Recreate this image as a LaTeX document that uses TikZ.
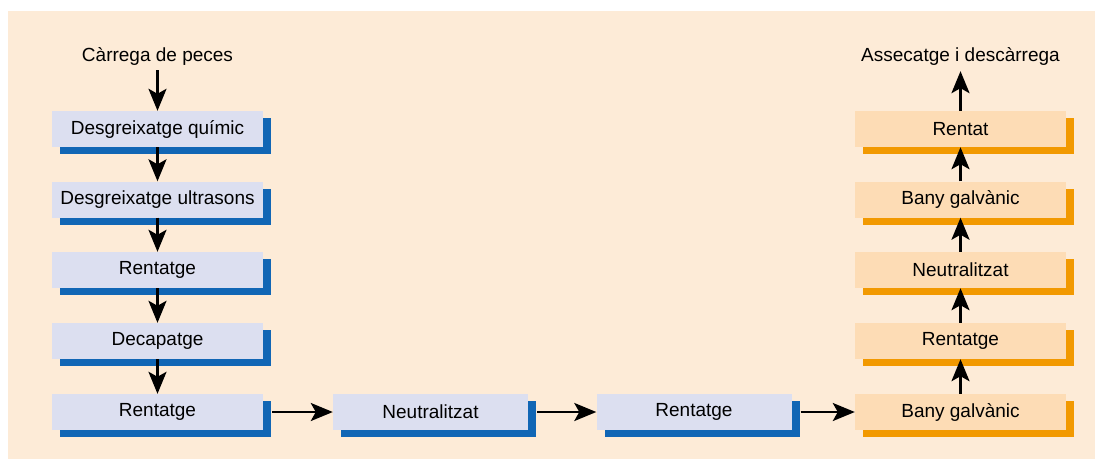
\documentclass[tikz,border=0pt]{standalone}
\usepackage{fontspec}
\setmainfont{Liberation Sans}
\usetikzlibrary{shadows,arrows.meta}
\definecolor{bgpeach}{HTML}{FDEBD7}
\definecolor{bluefill}{HTML}{DCDFF0}
\definecolor{blueshadow}{HTML}{1166B5}
\definecolor{orfill}{HTML}{FDDCB5}
\definecolor{orshadow}{HTML}{F29900}
\tikzset{
  basebox/.style={minimum width=211pt, minimum height=36pt, inner sep=0pt,
    font=\fontsize{19}{21}\selectfont},
  bluebox/.style={basebox, fill=bluefill,
    drop shadow={shadow xshift=8pt, shadow yshift=-7pt, fill=blueshadow, opacity=1}},
  midbox/.style={bluebox, minimum width=195pt},
  orbox/.style={basebox, fill=orfill,
    drop shadow={shadow xshift=8pt, shadow yshift=-7pt, fill=orshadow, opacity=1}},
  lbl/.style={font=\fontsize{19}{21}\selectfont, inner sep=0pt},
  flow/.style={line width=2.6pt, -{Stealth[length=22pt,width=18pt,inset=5pt]}}
}
\begin{document}
\begin{tikzpicture}[x=1pt,y=-1pt]
\useasboundingbox (0,0) rectangle (1095,459);
\fill[bgpeach] (8,11) rectangle (1095,459);
% left column
\node[lbl] (start) at (157.5,56) {Càrrega de peces};
\node[bluebox] (l1) at (157.5,129) {Desgreixatge químic};
\node[bluebox] (l2) at (157.5,199.5) {Desgreixatge ultrasons};
\node[bluebox] (l3) at (157.5,270) {Rentatge};
\node[bluebox] (l4) at (157.5,341) {Decapatge};
\node[bluebox] (l5) at (157.5,412) {Rentatge};
% middle
\node[midbox] (m1) at (430.5,412) {Neutralitzat};
\node[midbox] (m2) at (694,412) {Rentatge};
% right column
\node[orbox] (r1) at (960.5,412) {Bany galvànic};
\node[orbox] (r2) at (960.5,341) {Rentatge};
\node[orbox] (r3) at (960.5,270) {Neutralitzat};
\node[orbox] (r4) at (960.5,199.5) {Bany galvànic};
\node[orbox] (r5) at (960.5,129) {Rentat};
\node[lbl] (end) at (960.5,56) {Assecatge i descàrrega};
% arrows
\draw[flow] ([yshift=-5pt]start.south) -- (l1.north);
\draw[flow] (l1.south) -- (l2.north);
\draw[flow] (l2.south) -- (l3.north);
\draw[flow] (l3.south) -- (l4.north);
\draw[flow] (l4.south) -- (l5.north);
\draw[flow] ([xshift=9pt]l5.east) -- (m1.west);
\draw[flow] ([xshift=9pt]m1.east) -- (m2.west);
\draw[flow] ([xshift=9pt]m2.east) -- (r1.west);
\draw[flow] (r1.north) -- (r2.south);
\draw[flow] (r2.north) -- (r3.south);
\draw[flow] (r3.north) -- (r4.south);
\draw[flow] (r4.north) -- (r5.south);
\draw[flow] (r5.north) -- ([yshift=-6pt]end.south);
\end{tikzpicture}
\end{document}
